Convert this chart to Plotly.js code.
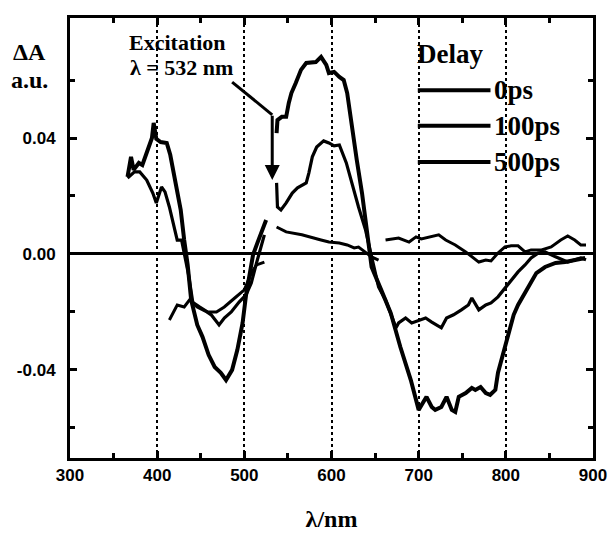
<!DOCTYPE html>
<html>
<head>
<meta charset="utf-8">
<script src="https://cdn.plot.ly/plotly-3.0.1.min.js"></script>
<style>html,body{margin:0;padding:0;background:#fff;}#chart{width:608px;height:533px;}</style>
</head>
<body>
<div id="chart"></div>
<script>
// ---- data ----
const seriesNames = ['0ps', '100ps', '500ps'];

const wl0ps = [366,370,373,379,383,389,394,396,399,404,411,415,421,427,431,435,439,446,452,459,466,473,479,486,492,498,502,506,510,515,521,525,
  530,
  537,538,543,548,551,554,559,565,571,577,582,588,594,597,603,609,614,618,623,629,635,639,643,646,657,668,679,691,700,706,709,715,719,726,732,738,742,746,754,761,765,771,777,782,788,791,797,803,809,814,826,835,845,857,868,879,891];
const dA0ps = [0.0266,0.0335,0.029,0.0314,0.0307,0.0359,0.040,0.0452,0.0397,0.0386,0.0383,0.0342,0.0255,0.0152,0.0048,-0.0038,-0.0159,-0.0245,-0.0286,-0.0348,-0.039,-0.041,-0.0435,-0.040,-0.0331,-0.0238,-0.0141,-0.0066,-0.0003,0.0038,0.0083,0.0117,
  null,
  0.0417,0.0462,0.0473,0.0473,0.0521,0.0555,0.059,0.0635,0.0659,0.0662,0.0662,0.068,0.0652,0.0624,0.0628,0.0611,0.060,0.0555,0.0438,0.0324,0.021,0.0117,0.0024,-0.0045,-0.0124,-0.0204,-0.0321,-0.0435,-0.0538,-0.0504,-0.0493,-0.0528,-0.0538,-0.0528,-0.0493,-0.0538,-0.0545,-0.0493,-0.048,-0.0462,-0.0469,-0.0459,-0.048,-0.0486,-0.0469,-0.041,-0.0342,-0.0273,-0.021,-0.0176,-0.0114,-0.0066,-0.0045,-0.0031,-0.0028,-0.0021,-0.0014];

const wl100ps = [366,374,380,388,395,399,405,409,414,420,423,428,431,436,441,446,457,462,471,477,485,494,502,508,514,517,523,
  530,
  537,538,542,548,555,561,571,574,578,583,591,597,603,609,617,623,631,639,645,654,662,668,674,677,685,692,700,708,715,726,732,740,749,757,761,769,777,783,791,799,806,814,822,829,837,845,857,871,886,892];
const dA100ps = [0.0262,0.0283,0.0283,0.0255,0.021,0.0176,0.0231,0.0214,0.0162,0.0093,0.0048,0.0048,0.0003,-0.0072,-0.0169,-0.0183,-0.02,-0.021,-0.0245,-0.0221,-0.02,-0.0166,-0.0141,-0.01,-0.0031,0.0003,0.0066,
  null,
  0.0245,0.0162,0.0152,0.0176,0.021,0.0228,0.0245,0.0279,0.0335,0.0369,0.039,0.0383,0.0373,0.0376,0.0314,0.0245,0.0162,0.0083,0.0003,-0.0114,-0.0159,-0.0204,-0.0255,-0.0238,-0.0221,-0.0238,-0.0228,-0.0221,-0.0235,-0.0255,-0.0221,-0.021,-0.0193,-0.0176,-0.0152,-0.0193,-0.0176,-0.0169,-0.0148,-0.0117,-0.009,-0.0062,-0.0038,-0.0014,0.0003,0.0007,-0.001,-0.0028,-0.0014,-0.002];

const wl500ps = [414,423,431,437,449,458,468,477,489,500,508,514,523,
  530,
  537,548,566,578,588,597,609,618,626,631,639,646,654,
  658,
  662,677,689,697,703,715,723,731,742,754,761,769,777,783,791,799,806,814,822,829,841,852,863,871,879,886,892];
const dA500ps = [-0.0228,-0.0176,-0.0183,-0.0159,-0.0183,-0.02,-0.02,-0.0183,-0.0152,-0.0124,-0.0066,-0.0038,-0.0028,
  null,
  0.0093,0.0076,0.0066,0.0055,0.0048,0.0041,0.0038,0.0031,0.0021,0.0024,0.0007,-0.001,-0.0021,
  null,
  0.0048,0.0055,0.0041,0.0059,0.0052,0.0059,0.0066,0.0048,0.0031,0.0007,-0.001,-0.0028,-0.0021,-0.0024,0.0003,0.0024,0.0028,0.0028,0.0007,0.0014,0.0014,0.0024,0.0048,0.0062,0.0048,0.0031,0.0031];

const xTickVals = [300,400,500,600,700,800,900];
const xTickText = ['300','400','500','600','700','800','900'];
const xMinorVals = [350,450,550,650,750,850];
const yTickVals = [-0.04, 0, 0.04];
const yTickText = ['-0.04', '0.00', '0.04'];
const yMinorVals = [-0.06, -0.02, 0.02, 0.06];
const excitationWl = 532;
const xRange = [300, 900];
const yRange = [-0.0704, 0.0814];

// ---- styling ----
const serif = 'Liberation Serif';
const sans = 'Liberation Sans';
const widths = [4, 3.2, 3];
const wls = [wl0ps, wl100ps, wl500ps];
const vals = [dA0ps, dA100ps, dA500ps];
const bold = arr => arr.map(t => '<b>' + t + '</b>');

const traces = seriesNames.map((n, i) => ({
  type: 'scatter', mode: 'lines', name: n,
  x: wls[i], y: vals[i], connectgaps: false,
  line: {color: '#000', width: widths[i]},
  showlegend: false, hoverinfo: 'skip'
}));
// empty trace carrying the minor-tick overlay axes
traces.push({type: 'scatter', mode: 'lines', x: [null], y: [null], xaxis: 'x2', yaxis: 'y2',
  showlegend: false, hoverinfo: 'skip'});

// legend drawn in paper coordinates
const legY = [0.836, 0.755, 0.673];
const shapes = seriesNames.map((n, i) => ({
  type: 'line', xref: 'paper', yref: 'paper',
  x0: 0.665, x1: 0.804, y0: legY[i], y1: legY[i],
  line: {color: '#000', width: 4}
}));
shapes.push({type: 'line', xref: 'x', yref: 'y', x0: 486, y0: 0.0593, x1: excitationWl, y1: 0.048,
  line: {color: '#000', width: 3}});

const annotations = seriesNames.map((n, i) => ({
  text: '<b>' + n + '</b>', xref: 'paper', yref: 'paper', x: 0.806, y: legY[i],
  xanchor: 'left', yanchor: 'middle', showarrow: false,
  font: {family: serif, size: 27, color: '#000'}
}));
annotations.push(
  {text: '<b>Delay</b>', xref: 'paper', yref: 'paper', x: 0.727, y: 0.918, xanchor: 'center', yanchor: 'middle',
   showarrow: false, font: {family: serif, size: 27, color: '#000'}},
  {text: '<b>ΔA</b>', xref: 'paper', yref: 'paper', x: -0.077, y: 0.923, xanchor: 'center', yanchor: 'middle',
   showarrow: false, font: {family: serif, size: 24, color: '#000'}},
  {text: '<b>a.u.</b>', xref: 'paper', yref: 'paper', x: -0.077, y: 0.859, xanchor: 'center', yanchor: 'middle',
   showarrow: false, font: {family: serif, size: 24, color: '#000'}},
  {text: '<b>Excitation</b>', xref: 'x', yref: 'y', x: 423, y: 0.0728, xanchor: 'center', yanchor: 'middle',
   showarrow: false, font: {family: serif, size: 22, color: '#000'}},
  {text: '<b>λ = 532 nm</b>', xref: 'x', yref: 'y', x: 428, y: 0.0642, xanchor: 'center', yanchor: 'middle',
   showarrow: false, font: {family: serif, size: 22, color: '#000'}},
  {text: '', xref: 'x', yref: 'y', x: excitationWl, y: 0.0255, ax: excitationWl, ay: 0.0482,
   axref: 'x', ayref: 'y', showarrow: true, arrowhead: 2, arrowsize: 1, arrowwidth: 3, arrowcolor: '#000'}
);

const tickFont = {family: sans, size: 17, color: '#000'};

const layout = {
  width: 608, height: 533,
  margin: {l: 70, r: 15, t: 18, b: 75},
  showlegend: false,
  xaxis: {
    range: xRange, tickmode: 'array', tickvals: xTickVals, ticktext: bold(xTickText),
    ticks: 'inside', ticklen: 7, tickwidth: 3, tickcolor: '#000', ticklabeloverflow: 'allow',
    showline: true, linewidth: 3, linecolor: '#000', mirror: 'ticks',
    showgrid: true, gridcolor: '#000', gridwidth: 1.5, griddash: 'dot',
    zeroline: false, tickfont: tickFont,
    title: {text: '<b>λ/nm</b>', font: {family: serif, size: 24, color: '#000'}, standoff: 26}
  },
  yaxis: {
    range: yRange, tickmode: 'array', tickvals: yTickVals, ticktext: bold(yTickText),
    ticks: 'inside', ticklen: 7, tickwidth: 3, tickcolor: '#000',
    showline: true, linewidth: 3, linecolor: '#000', mirror: 'ticks',
    showgrid: false, ticklabelstandoff: 8,
    zeroline: true, zerolinecolor: '#000', zerolinewidth: 3,
    tickfont: tickFont
  },
  xaxis2: {
    overlaying: 'x', anchor: 'y', side: 'bottom', range: xRange,
    tickmode: 'array', tickvals: xMinorVals, ticks: 'inside', ticklen: 5, tickwidth: 2.5, tickcolor: '#000',
    mirror: 'ticks', showline: false, showgrid: false, zeroline: false, showticklabels: false
  },
  yaxis2: {
    overlaying: 'y', anchor: 'x', side: 'left', range: yRange,
    tickmode: 'array', tickvals: yMinorVals, ticks: 'inside', ticklen: 5, tickwidth: 2.5, tickcolor: '#000',
    mirror: 'ticks', showline: false, showgrid: false, zeroline: false, showticklabels: false
  },
  shapes: shapes,
  annotations: annotations
};

Plotly.newPlot('chart', traces, layout, {displayModeBar: false});
</script>
</body>
</html>
